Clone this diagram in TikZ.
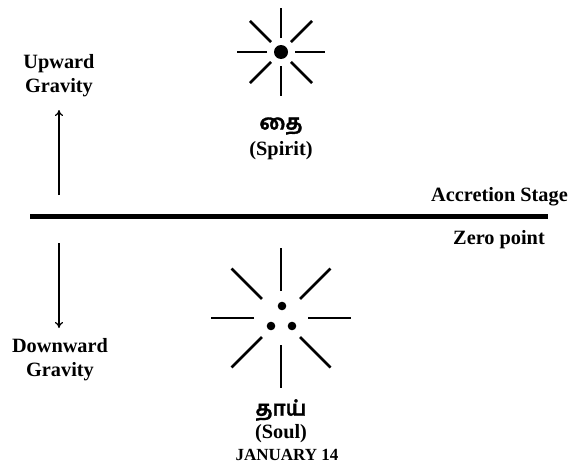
\documentclass[tikz,border=0pt]{standalone}
\usepackage{fontspec}
\setmainfont{Liberation Serif}
\newfontfamily\tamilfont[Script=Tamil,BoldFeatures={FakeBold=1.5}]{Hind Madurai}
\usetikzlibrary{arrows.meta,calc}
\tikzset{
  lbl/.style={font=\bfseries\fontsize{20.3}{24}\selectfont, inner sep=0pt, align=center},
  tlbl/.style={font=\tamilfont\bfseries\fontsize{21}{24}\selectfont, inner sep=0pt},
  ray/.style={line width=2.5pt},
  arr/.style={line width=1.2pt, -{To[length=6pt,width=8pt]}},
  baseline/.style={line width=5pt}
}
\begin{document}
\begin{tikzpicture}[x=1pt,y=-1pt]
\useasboundingbox (0,0) rectangle (569,463);
% zero line
\coordinate (zl) at (30,216);
\coordinate (zr) at (548,216);
\draw[baseline] (zl) -- (zr);
\node[lbl, anchor=east] (acc) at (568,197) {Accretion Stage};
\node[lbl] (zero) at (499,240) {Zero point};
% up
\node[lbl] (up) at (59,76) {Upward\\Gravity};
\coordinate (ub) at (59,195);
\coordinate (ut) at (59,110);
\draw[arr] (ub) -- (ut);
% down
\node[lbl] (down) at (60,360) {Downward\\Gravity};
\coordinate (dt) at (59,243);
\coordinate (db) at (59,328);
\draw[arr] (dt) -- (db);
% top sun
\coordinate (s1) at (281,52);
\fill (s1) circle (7);
\foreach \a in {0,45,...,315}{
  \draw[ray] ($(s1)+(\a:14)$) -- ($(s1)+(\a:44)$);
}
\node[tlbl] (tai) at (281,126) {தை};
\node[lbl] (spirit) at (281,151) {(Spirit)};
% bottom sun
\coordinate (s2) at (281,318);
\fill (282,306) circle (4.3);
\fill (271,326) circle (4.3);
\fill (292,326) circle (4.3);
\foreach \a in {0,45,...,315}{
  \draw[ray] ($(s2)+(\a:27)$) -- ($(s2)+(\a:70)$);
}
\node[tlbl] (thai) at (281,410) {தாய்};
\node[lbl] (soul) at (281,434) {(Soul)};
\node[lbl, font=\bfseries\fontsize{17}{20}\selectfont] (jan) at (287,455) {JANUARY 14};
\end{tikzpicture}
\end{document}
